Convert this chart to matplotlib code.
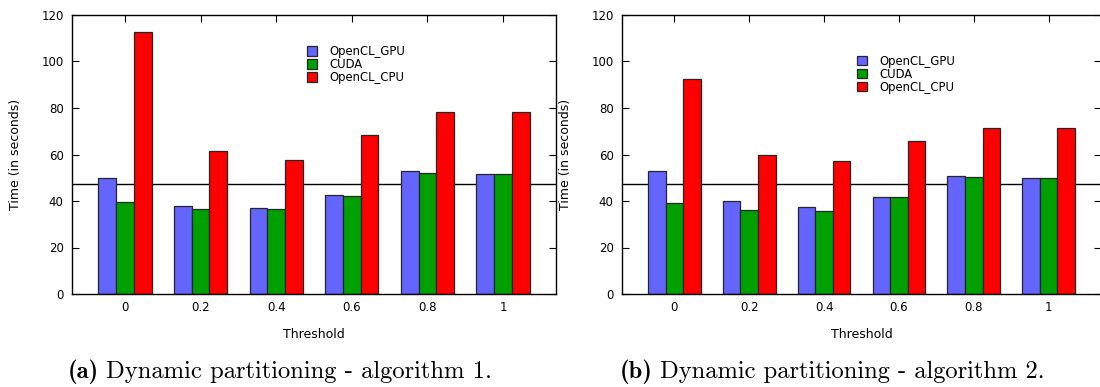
import matplotlib
matplotlib.use("Agg")
import matplotlib.pyplot as plt
import numpy as np

thresholds = ["0", "0.2", "0.4", "0.6", "0.8", "1"]
series_names = ["OpenCL_GPU", "CUDA", "OpenCL_CPU"]
colors = ["#6464FF", "#00A000", "#FF0000"]

gpu_a = [49.8, 38.0, 37.1, 42.7, 52.8, 51.8]
cuda_a = [39.4, 36.7, 36.7, 42.3, 52.2, 51.8]
cpu_a = [112.9, 61.3, 57.7, 68.2, 78.3, 78.3]

gpu_b = [53.0, 39.9, 37.4, 41.9, 50.9, 50.1]
cuda_b = [39.3, 36.1, 35.8, 41.6, 50.2, 49.9]
cpu_b = [92.4, 59.6, 57.0, 65.6, 71.4, 71.4]

ref_line = 47.5
yticks = [0, 20, 40, 60, 80, 100, 120]

W, H = 1100, 387
fig = plt.figure(figsize=(W / 100, H / 100), dpi=100)

def px_axes(x0, x1, y0, y1):
    return fig.add_axes([x0 / W, 1 - y1 / H, (x1 - x0) / W, (y1 - y0) / H])

ax_a = px_axes(72, 556, 15, 294)
ax_b = px_axes(622, 1101, 15, 294)

def draw(ax, data, leg_anchor):
    x = np.arange(len(thresholds))
    bw = 0.235
    for i, (vals, name, c) in enumerate(zip(data, series_names, colors)):
        ax.bar(x + (i - 1) * bw, vals, width=bw, color=c, edgecolor="#262626",
               linewidth=0.9, label=name, zorder=2)
    ax.axhline(ref_line, color="black", linewidth=1.0, zorder=1)
    ax.set_xlim(-0.7, 5.7)
    ax.set_ylim(0, 120)
    ax.set_xticks(x)
    ax.set_xticklabels(thresholds)
    ax.set_yticks(yticks)
    ax.tick_params(direction="in", length=5, width=0.8, top=True, right=True,
                   labelsize=8.5, colors="black")
    ax.tick_params(axis="x", pad=5)
    ax.tick_params(axis="y", pad=6)
    for s in ax.spines.values():
        s.set_linewidth(1.0)
    ax.set_xlabel("Threshold", fontsize=9, labelpad=10)
    ax.set_ylabel("Time (in seconds)", fontsize=9, labelpad=14)
    ax.legend(loc="upper left", bbox_to_anchor=leg_anchor, frameon=False,
              fontsize=8.4, borderpad=0, borderaxespad=0, handlelength=0.9,
              handleheight=0.9, labelspacing=0.0, handletextpad=1.0)

draw(ax_a, [gpu_a, cuda_a, cpu_a], (0.4855, 0.893))
draw(ax_b, [gpu_b, cuda_b, cpu_b], (0.4906, 0.858))

renderer = fig.canvas.get_renderer()

def caption(xc, label, rest, target_width=425, base=14.0):
    t1 = fig.text(0, 0.04, label, fontsize=base, family="cmb10", va="center", ha="left")
    t2 = fig.text(0, 0.04, rest, fontsize=base, family="cmr10", va="center", ha="left")
    w1 = t1.get_window_extent(renderer).width
    w2 = t2.get_window_extent(renderer).width
    gap = 0.3 * base * 100 / 72
    scale = target_width / (w1 + gap + w2)
    size = base * scale
    t1.set_fontsize(size)
    t2.set_fontsize(size)
    w1 *= scale
    w2 *= scale
    gap *= scale
    x0 = xc - (w1 + gap + w2) / 2
    t1.set_x(x0 / W)
    t2.set_x((x0 + w1 + gap) / W)

caption(280, "(a)", "Dynamic partitioning - algorithm 1.")
caption(832, "(b)", "Dynamic partitioning - algorithm 2.")

fig.savefig("out.png", dpi=100)
